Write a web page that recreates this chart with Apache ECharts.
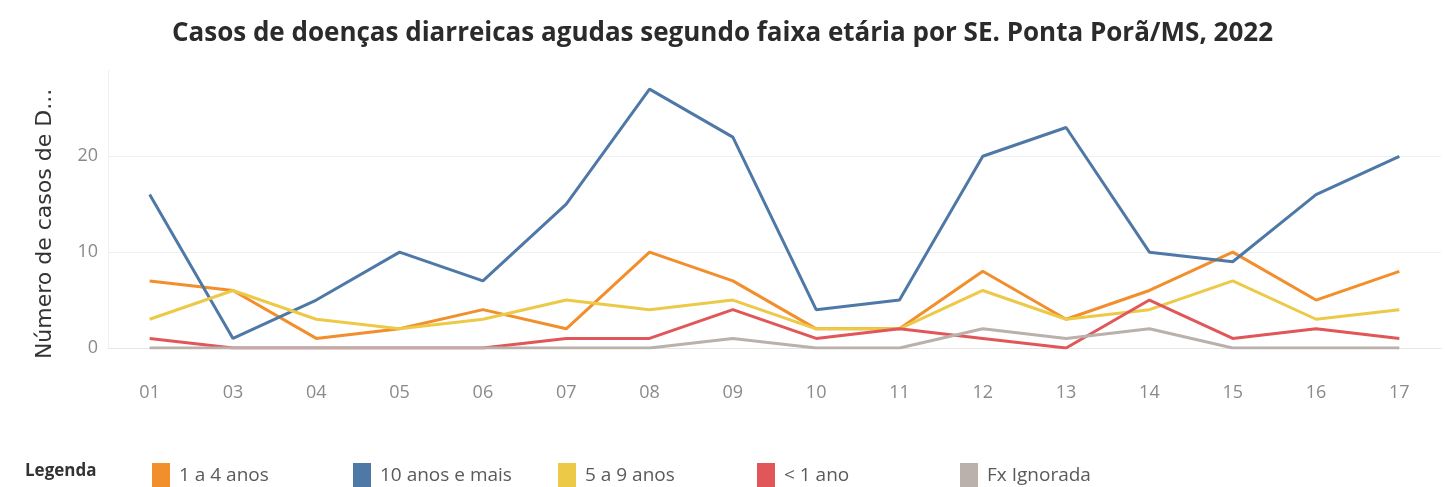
<!DOCTYPE html>
<html>
<head>
<meta charset="utf-8">
<script src="https://cdn.jsdelivr.net/npm/echarts@6/dist/echarts.min.js"></script>
<style>
html,body{margin:0;padding:0;background:#fff;}
#c{width:1445px;height:487px;}
</style>
</head>
<body>
<div id="c"></div>
<script>
const weeks = ['01','03','04','05','06','07','08','09','10','11','12','13','14','15','16','17'];
const seriesNames = ['1 a 4 anos','10 anos e mais','5 a 9 anos','< 1 ano','Fx Ignorada'];
const s1a4 =   [7, 6, 1, 2, 4, 2, 10, 7, 2, 2, 8, 3, 6, 10, 5, 8];
const s10mais = [16, 1, 5, 10, 7, 15, 27, 22, 4, 5, 20, 23, 10, 9, 16, 20];
const s5a9 =   [3, 6, 3, 2, 3, 5, 4, 5, 2, 2, 6, 3, 4, 7, 3, 4];
const sMenor1 = [1, 0, 0, 0, 0, 1, 1, 4, 1, 2, 1, 0, 5, 1, 2, 1];
const sIgnor = [0, 0, 0, 0, 0, 0, 0, 1, 0, 0, 2, 1, 2, 0, 0, 0];
const colors = ['#f28e2b','#4e79a7','#edc948','#e15759','#bab0ac'];
const dataList = [s1a4, s10mais, s5a9, sMenor1, sIgnor];
const legendLefts = [147, 348, 553, 752, 955];

const chart = echarts.init(document.getElementById('c'));
chart.setOption({
  animation: false,
  color: colors,
  title: [{
    text: 'Casos de doenças diarreicas agudas segundo faixa etária por SE. Ponta Porã/MS, 2022',
    left: 'center', top: 16,
    textStyle: {fontFamily: 'Open Sans', fontWeight: 'bold', fontSize: 26, color: '#2b2b2b'}
  }, {
    text: 'Legenda', left: 20, top: 458,
    textStyle: {fontFamily: 'Open Sans', fontWeight: 'bold', fontSize: 17, color: '#333'}
  }],
  legend: seriesNames.map((n, i) => ({
    left: legendLefts[i], top: 458,
    icon: 'rect', itemWidth: 18, itemHeight: 25, itemGap: 10,
    data: [n],
    textStyle: {fontFamily: 'Open Sans', fontSize: 19, color: '#5a5a5a', padding: [0, 0, 0, 4]}
  })),
  grid: {left: 108, right: 4, top: 70, bottom: 139},
  xAxis: {
    type: 'category', data: weeks, boundaryGap: true,
    axisLine: {show: true, lineStyle: {color: '#e6e6e6'}},
    axisTick: {show: false},
    axisLabel: {margin: 36, fontFamily: 'Open Sans', fontSize: 18, color: '#8a8a8a'}
  },
  yAxis: {
    type: 'value', min: 0, max: 29, interval: 10,
    name: 'Número de casos de D...', nameLocation: 'middle', nameGap: 52,
    nameTextStyle: {fontFamily: 'DejaVu Sans', fontSize: 22, color: '#333', padding: [0, 30, 0, 0]},
    axisLine: {show: true, lineStyle: {color: '#f0f0f0'}},
    axisTick: {show: false},
    axisLabel: {showMaxLabel: false, margin: 10, fontFamily: 'Open Sans', fontSize: 18, color: '#8a8a8a'},
    splitLine: {show: true, showMaxLine: false, lineStyle: {color: '#efefef', width: 1}}
  },
  series: seriesNames.map((n, i) => ({
    name: n, type: 'line', data: dataList[i],
    showSymbol: false, symbol: 'none',
    lineStyle: {width: 3, color: colors[i]},
    itemStyle: {color: colors[i]}
  }))
});
</script>
</body>
</html>
